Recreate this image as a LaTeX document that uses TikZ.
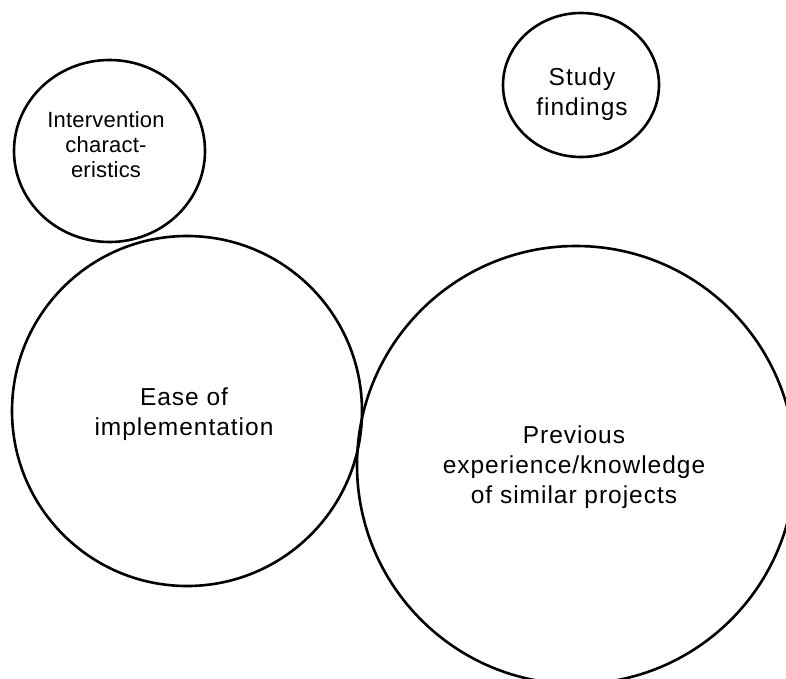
\documentclass[tikz,border=0pt]{standalone}
\usepackage{fontspec}
\setmainfont{Liberation Sans}
\newfontfamily\lblfont[LetterSpace=4]{Liberation Sans}
\newfontfamily\lblsmallfont[LetterSpace=1]{Liberation Sans}
\usetikzlibrary{shapes.geometric}
\begin{document}
\begin{tikzpicture}[x=1pt,y=-1pt,
  bubble/.style={draw=black, line width=2.6pt, inner sep=0pt, ellipse},
  label/.style={align=center, inner sep=0pt,
    font=\lblfont\fontsize{24.5pt}{30pt}\selectfont},
  smalllabel/.style={align=center, inner sep=0pt,
    font=\lblsmallfont\fontsize{22pt}{25pt}\selectfont}]
  \useasboundingbox (0,0) rectangle (786,679);
  \clip (0,0) rectangle (786,679);
  \fill[white] (0,0) rectangle (786,679);

  % bubbles
  \node[bubble, minimum width=191pt, minimum height=182pt] (interv) at (109.5,151) {};
  \node[bubble, minimum width=156pt, minimum height=144pt] (study) at (581,85) {};
  \node[bubble, minimum size=350pt, circle] (ease) at (187,411) {};
  \node[bubble, minimum size=438pt, circle] (prev) at (576,465) {};

  % labels
  \node[smalllabel] (intervtext) at (106,145) {Intervention\\charact-\\eristics};
  \node[label] (studytext) at (582,94) {Study\\findings};
  \node[label] (easetext) at (184,414) {Ease of\\implementation};
  \node[label] (prevtext) at (574,467) {Previous\\experience/knowledge\\of similar projects};
\end{tikzpicture}
\end{document}
